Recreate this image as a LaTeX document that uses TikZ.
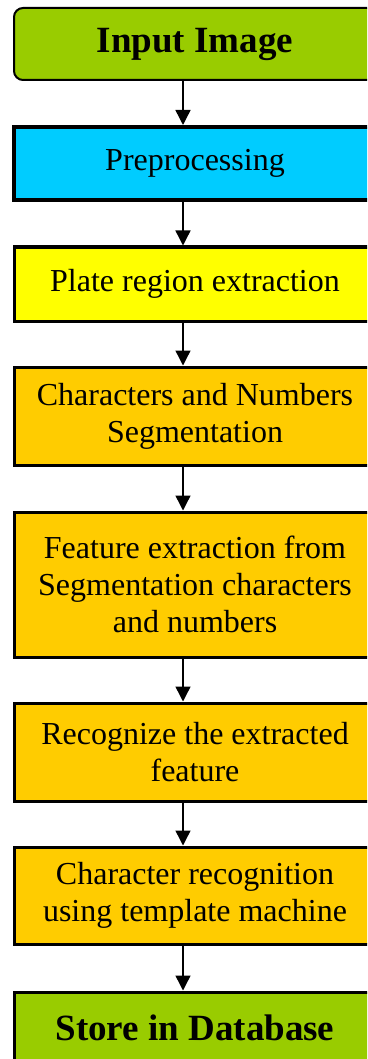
\documentclass[tikz,border=0pt]{standalone}
\usepackage{fontspec}
\setmainfont{Liberation Serif}
\usetikzlibrary{arrows.meta}
\definecolor{cgreen}{HTML}{99CC00}
\definecolor{ccyan}{HTML}{00CCFF}
\definecolor{cyell}{HTML}{FFFF00}
\definecolor{corange}{HTML}{FFCC00}
\tikzset{
  box/.style={draw=black, line width=3pt, minimum width=362pt, inner sep=0pt,
    align=center, font=\fontsize{32}{36.7}\selectfont, text=black},
  boldbox/.style={box, font=\fontsize{37}{42}\selectfont\bfseries},
  arr/.style={line width=1.4pt, -{Triangle[length=15pt,width=15pt]}}
}
\begin{document}
\begin{tikzpicture}[x=1pt,y=1pt]
\useasboundingbox (0,0) rectangle (367,-1059);
\clip (0,0) rectangle (367,-1059);
\fill[white] (0,0) rectangle (367,-1059);
\coordinate (ax) at (183,0);
\node[boldbox, fill=cgreen, line width=2pt, rounded corners=9pt, minimum height=72pt] (in) at (195,-44) {Input Image};
\node[box, fill=ccyan, line width=4pt, minimum height=73pt] (pre) at (195,-163.5) {Preprocessing};
\node[box, fill=cyell, minimum height=74pt] (plate) at (195,-284) {Plate region extraction};
\node[box, fill=corange, minimum height=98pt] (seg) at (195,-416) {Characters and Numbers\\Segmentation};
\node[box, fill=corange, minimum height=145pt] (feat) at (195,-584.5) {Feature extraction from\\Segmentation characters\\and numbers};
\node[box, fill=corange, minimum height=98pt] (rec) at (195,-752) {Recognize the extracted\\feature};
\node[box, fill=corange, minimum height=97pt] (crec) at (195,-895.5) {Character recognition\\using template machine};
\node[boldbox, fill=cgreen, minimum height=72pt] (store) at (195,-1028) {Store in Database};
\foreach \a/\b in {in/pre, pre/plate, plate/seg, seg/feat, feat/rec, rec/crec, crec/store}
  \draw[arr] (\a.south -| ax) -- (\b.north -| ax);
\end{tikzpicture}
\end{document}
